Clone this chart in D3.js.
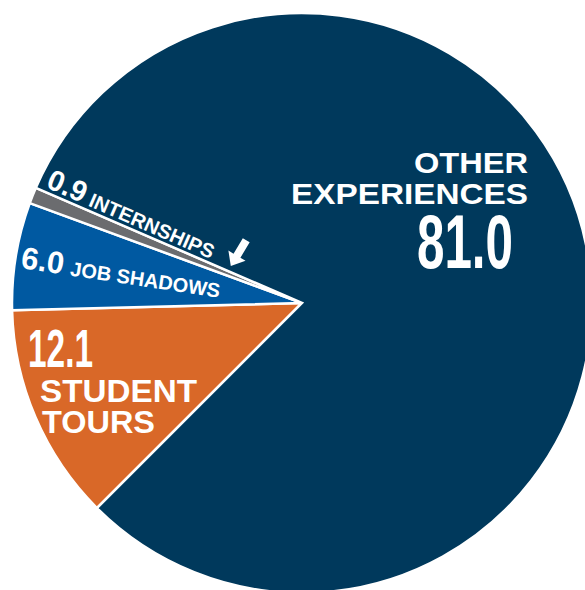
<!DOCTYPE html>
<html>
<head>
<meta charset="utf-8">
<script src="https://cdn.jsdelivr.net/npm/d3@7"></script>
<style>
  html, body { margin: 0; padding: 0; background: #ffffff; }
  svg { display: block; }
  text { font-family: "Liberation Sans", Arial, sans-serif; font-weight: bold; fill: #ffffff; }
  .narrow { font-family: "Liberation Sans Narrow", "Arial Narrow", "Liberation Sans", sans-serif; }
</style>
</head>
<body>
<svg id="chart" width="585" height="590"></svg>
<script>
const categories = ["STUDENT TOURS", "JOB SHADOWS", "INTERNSHIPS", "OTHER EXPERIENCES"];
const values = [12.1, 6.0, 0.9, 81.0];
const sliceColors = ["#d96828", "#0059a1", "#6b6c6f", "#00395c"];

const W = 585, H = 590;
const cx = 302, cy = 303, R = 290;
const svg = d3.select("#chart");

const data = categories.map((c, i) => ({ name: c, value: values[i], color: sliceColors[i] }));

const start = 225 * Math.PI / 180;
const pie = d3.pie().sort(null).value(d => d.value).startAngle(start).endAngle(start + 2 * Math.PI);
const arc = d3.arc().innerRadius(0).outerRadius(R);

const g = svg.append("g").attr("transform", `translate(${cx},${cy})`);
g.selectAll("path").data(pie(data)).join("path")
  .attr("d", arc)
  .attr("fill", d => d.data.color)
  .attr("stroke", "#ffffff")
  .attr("stroke-width", 2.5)
  .attr("stroke-linejoin", "miter");

const fmt = d3.format(".1f");

// OTHER EXPERIENCES
const other = data[3];
const words = other.name.split(" ");
svg.append("text").attr("x", 528).attr("y", 173).attr("text-anchor", "end")
  .attr("font-size", 30).attr("textLength", 114).attr("lengthAdjust", "spacingAndGlyphs").text(words[0]);
svg.append("text").attr("x", 291).attr("y", 204)
  .attr("font-size", 30).attr("textLength", 237).attr("lengthAdjust", "spacingAndGlyphs").text(words[1]);
svg.append("text").attr("class", "narrow").attr("x", 417).attr("y", 268)
  .attr("font-size", 76).attr("textLength", 96).attr("lengthAdjust", "spacingAndGlyphs").text(fmt(other.value));

// STUDENT TOURS
const st = data[0];
const stWords = st.name.split(" ");
svg.append("text").attr("class", "narrow").attr("x", 28).attr("y", 367)
  .attr("font-size", 54).attr("textLength", 65).attr("lengthAdjust", "spacingAndGlyphs").text(fmt(st.value));
svg.append("text").attr("x", 40).attr("y", 402)
  .attr("font-size", 31).attr("textLength", 157).attr("lengthAdjust", "spacingAndGlyphs").text(stWords[0]);
svg.append("text").attr("x", 42).attr("y", 433)
  .attr("font-size", 31).attr("textLength", 113).attr("lengthAdjust", "spacingAndGlyphs").text(stWords[1]);

// JOB SHADOWS (rotated)
const js = data[1];
const jsT = svg.append("text").attr("class", "narrow").attr("transform", "translate(20,268) rotate(8.5)");
jsT.append("tspan").attr("font-size", 31).text(fmt(js.value));
jsT.append("tspan").attr("font-size", 20).attr("dx", 7).text(js.name);

// INTERNSHIPS (rotated)
const it = data[2];
const itT = svg.append("text").attr("class", "narrow").attr("transform", "translate(45,187) rotate(23.5)");
itT.append("tspan").attr("font-size", 29).text(fmt(it.value));
itT.append("tspan").attr("font-size", 20).attr("dx", 6).text(it.name);

// Arrow pointing to the internships slice
svg.append("path")
  .attr("d", "M-4,-16 L4,-16 L4,2 L10,2 L0,14 L-10,2 L-4,2 Z")
  .attr("transform", "translate(238,254) rotate(31)")
  .attr("fill", "#ffffff");
</script>
</body>
</html>
